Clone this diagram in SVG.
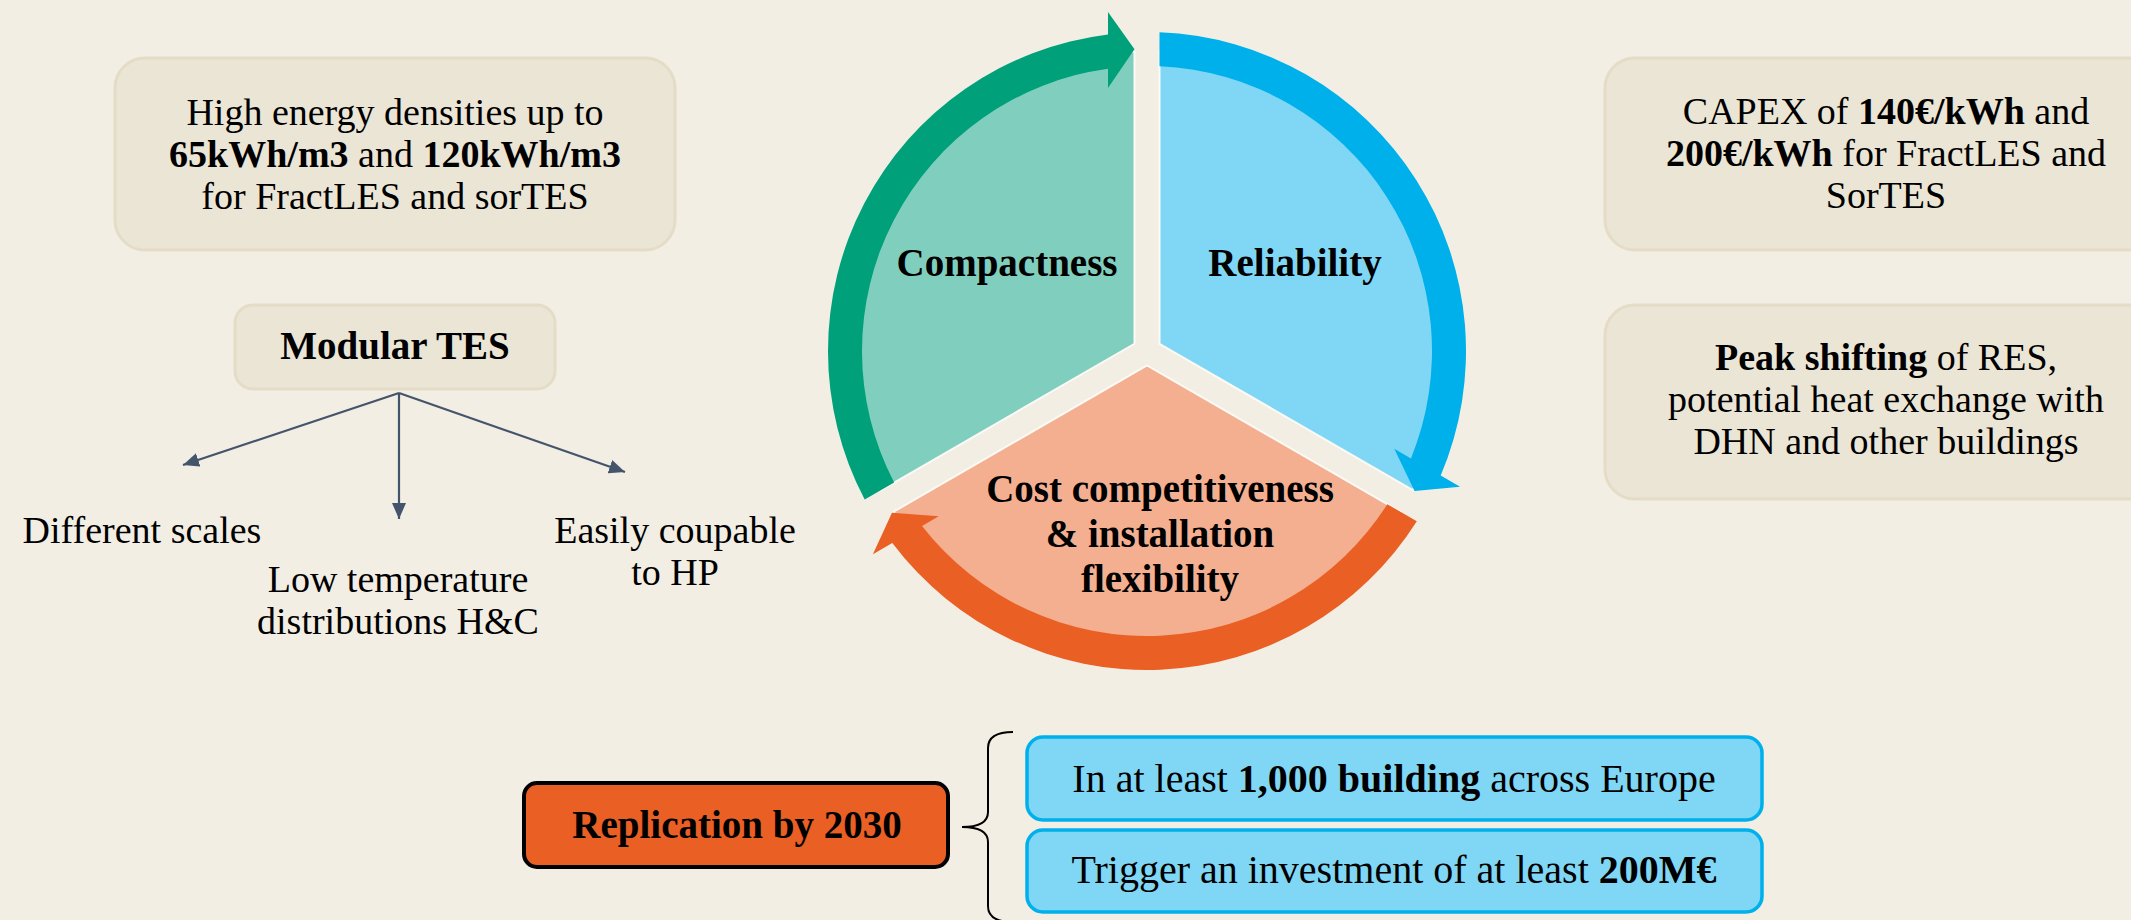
<svg xmlns="http://www.w3.org/2000/svg" width="2131" height="920" viewBox="0 0 2131 920">
<defs>
<style>
text { font-family: "Liberation Serif", "Times New Roman", serif; fill: #000; }
.t40 { font-size: 40px; text-anchor: middle; }
.t38 { font-size: 38px; text-anchor: middle; }
.t39 { font-size: 39px; text-anchor: middle; }
.b { font-weight: bold; }
.beige { fill: #ebe5d5; stroke: #e4dcc7; stroke-width: 3; }
.conn { stroke: #44546a; stroke-width: 2.2; fill: none; marker-end: url(#ah); }
.blue { fill: #80d7f5; stroke: #00b0eb; stroke-width: 3.5; }
.pie { stroke: #fbfaf5; stroke-width: 2; }
.brace { stroke: #000; stroke-width: 2; fill: none; }
</style>
<marker id="ah" markerUnits="userSpaceOnUse" markerWidth="18" markerHeight="14" refX="16" refY="7" orient="auto">
<path d="M0,0 L16,7 L0,14 z" fill="#44546a"/>
</marker>
<path id="pieShape" d="M1134.5,343.78 L1134.5,51.26 A300,300 0 0 0 881.18,490.05 Z"/>
<path id="bandShape" d="M864.70,499.55 A319,319 0 0 1 1108,34.39 L1108,12 L1134.5,49.3 L1108,88 L1108,68.68 A285,285 0 0 0 894.17,482.54 Z"/>
</defs>
<rect x="0" y="0" width="2131" height="920" fill="#f2eee4"/>

<g id="node-high-energy">
<rect class="beige" x="115" y="58" width="560" height="192" rx="30"/>
<text class="t38" x="395" y="125">High energy densities up to</text>
<text class="t38" x="395" y="167"><tspan class="b">65kWh/m3</tspan> and <tspan class="b">120kWh/m3</tspan></text>
<text class="t38" x="395" y="209">for FractLES and sorTES</text>
</g>

<g id="node-modular-tes">
<rect class="beige" x="235" y="305" width="320" height="84" rx="18"/>
<text class="t39 b" x="395" y="359">Modular TES</text>
</g>

<g id="node-different-scales">
<text class="t38" x="142" y="543">Different scales</text>
</g>
<g id="node-low-temperature">
<text class="t38" x="398" y="592">Low temperature</text>
<text class="t38" x="398" y="634">distributions H&amp;C</text>
</g>
<g id="node-easily-coupable">
<text class="t38" x="675" y="543">Easily coupable</text>
<text class="t38" x="675" y="585">to HP</text>
</g>

<g id="cycle">
<g id="node-compactness">
<use href="#pieShape" class="pie" fill="#80cfbe"/>
<use href="#bandShape" fill="#00a07a"/>
<text class="t39 b" x="1007" y="276">Compactness</text>
</g>
<g id="node-reliability">
<use href="#pieShape" class="pie" fill="#80d7f5" transform="rotate(120 1147 351)"/>
<use href="#bandShape" fill="#00b0eb" transform="rotate(120 1147 351)"/>
<text class="t39 b" x="1295" y="276">Reliability</text>
</g>
<g id="node-cost">
<use href="#pieShape" class="pie" fill="#f4af90" transform="rotate(240 1147 351)"/>
<use href="#bandShape" fill="#ea5f24" transform="rotate(240 1147 351)"/>
<text class="t39 b" x="1160" y="502">Cost competitiveness</text>
<text class="t39 b" x="1160" y="547">&amp; installation</text>
<text class="t39 b" x="1160" y="592">flexibility</text>
</g>
</g>

<g id="node-capex">
<rect class="beige" x="1605" y="58" width="560" height="192" rx="30"/>
<text class="t38" x="1886" y="124">CAPEX of <tspan class="b">140€/kWh</tspan> and</text>
<text class="t38" x="1886" y="166"><tspan class="b">200€/kWh</tspan> for FractLES and</text>
<text class="t38" x="1886" y="208">SorTES</text>
</g>

<g id="node-peak">
<rect class="beige" x="1605" y="305" width="560" height="194" rx="30"/>
<text class="t38" x="1886" y="370"><tspan class="b">Peak shifting</tspan> of RES,</text>
<text class="t38" x="1886" y="412">potential heat exchange with</text>
<text class="t38" x="1886" y="454">DHN and other buildings</text>
</g>

<g id="node-replication">
<rect x="524" y="783" width="424" height="84" rx="13" fill="#ea5f24" stroke="#000" stroke-width="4"/>
<text class="t39 b" x="737" y="838">Replication by 2030</text>
</g>

<g id="node-building">
<rect class="blue" x="1027" y="737" width="735" height="83" rx="16"/>
<text class="t40" x="1394" y="792">In at least <tspan class="b">1,000 building</tspan> across Europe</text>
</g>

<g id="node-investment">
<rect class="blue" x="1027" y="830" width="735" height="82" rx="16"/>
<text class="t40" x="1394" y="883">Trigger an investment of at least <tspan class="b">200M€</tspan></text>
</g>

<g id="connectors">
<line class="conn" x1="399" y1="393" x2="183" y2="465"/>
<line class="conn" x1="399" y1="393" x2="399" y2="519"/>
<line class="conn" x1="399" y1="393" x2="625" y2="472"/>
<path class="brace" d="M1013,732 Q988,732 988,748 L988,812 Q988,827 962,827 Q988,827 988,842 L988,906 Q988,922 1013,922"/>
</g>
</svg>
